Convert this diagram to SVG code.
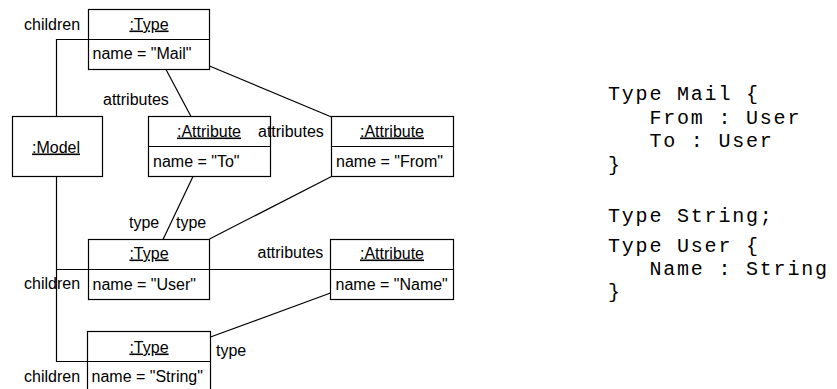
<svg xmlns="http://www.w3.org/2000/svg" width="837" height="389" viewBox="0 0 837 389">
<style>
.box{fill:none;stroke:#000;stroke-width:1.2}
.ln{fill:none;stroke:#000;stroke-width:1.2}
text{font-family:"Liberation Sans",Arial,sans-serif;font-size:16px;fill:#000}
.h{text-anchor:middle;text-decoration:underline}
.code{font-family:"Liberation Mono","Courier New",monospace;font-size:20px;letter-spacing:1.8px;white-space:pre}
</style>
<g id="connectors">
<polyline class="ln" points="56.5,116.5 56.5,39.5 88.5,39.5"/>
<polyline class="ln" points="56.5,176.5 56.5,361.5 87.5,361.5"/>
<line class="ln" x1="56.5" y1="269.5" x2="88.5" y2="269.5"/>
<line class="ln" x1="166" y1="69.5" x2="191" y2="116.5"/>
<line class="ln" x1="209.5" y1="66" x2="331.5" y2="117"/>
<line class="ln" x1="193" y1="176.5" x2="163" y2="239.5"/>
<line class="ln" x1="331.5" y1="176.5" x2="209.5" y2="239"/>
<line class="ln" x1="209.5" y1="269.5" x2="330.5" y2="269.5"/>
<line class="ln" x1="330.5" y1="293" x2="210.5" y2="337"/>
<text x="24" y="30">children</text>
<text x="103" y="105">attributes</text>
<text x="258" y="137">attributes</text>
<text x="129" y="228">type</text>
<text x="176" y="228">type</text>
<text x="257.5" y="258">attributes</text>
<text x="24" y="289">children</text>
<text x="216" y="356">type</text>
<text x="24" y="382">children</text>
</g>
<g id="type-mail">
<rect class="box" x="88.5" y="9.5" width="121" height="60"/>
<line class="ln" x1="88.5" y1="39.5" x2="209.5" y2="39.5"/>
<text class="h" x="149" y="29.5">:Type</text>
<text x="92.5" y="58.5">name = "Mail"</text>
</g>
<g id="model">
<rect class="box" x="12.5" y="116.5" width="90" height="60"/>
<text class="h" x="56" y="152.5">:Model</text>
</g>
<g id="attr-to">
<rect class="box" x="148.5" y="116.5" width="122" height="60"/>
<line class="ln" x1="148.5" y1="146.5" x2="270.5" y2="146.5"/>
<text class="h" x="209" y="136.5">:Attribute</text>
<text x="153" y="166.5">name = "To"</text>
</g>
<g id="attr-from">
<rect class="box" x="331.5" y="116.5" width="122" height="60"/>
<line class="ln" x1="331.5" y1="146.5" x2="453.5" y2="146.5"/>
<text class="h" x="392" y="136.5">:Attribute</text>
<text x="336" y="166.5">name = "From"</text>
</g>
<g id="type-user">
<rect class="box" x="88.5" y="239.5" width="121" height="60"/>
<line class="ln" x1="88.5" y1="269.5" x2="209.5" y2="269.5"/>
<text class="h" x="149" y="258.5">:Type</text>
<text x="92.5" y="289.5">name = "User"</text>
</g>
<g id="attr-name">
<rect class="box" x="330.5" y="239.5" width="123" height="60"/>
<line class="ln" x1="330.5" y1="269.5" x2="453.5" y2="269.5"/>
<text class="h" x="392" y="258.5">:Attribute</text>
<text x="335.5" y="289.5">name = "Name"</text>
</g>
<g id="type-string">
<rect class="box" x="87.5" y="331.5" width="123" height="60"/>
<line class="ln" x1="87.5" y1="361.5" x2="210.5" y2="361.5"/>
<text class="h" x="149" y="352.5">:Type</text>
<text x="91.5" y="381.5">name = "String"</text>
</g>
<g id="code">
<text class="code" x="608" y="100">Type Mail {</text>
<text class="code" x="608" y="123.5">   From : User</text>
<text class="code" x="608" y="147">   To : User</text>
<text class="code" x="608" y="170.5">}</text>
<text class="code" x="608" y="221.5">Type String;</text>
<text class="code" x="608" y="251.5">Type User {</text>
<text class="code" x="608" y="274.5">   Name : String</text>
<text class="code" x="608" y="298">}</text>
</g>
</svg>
